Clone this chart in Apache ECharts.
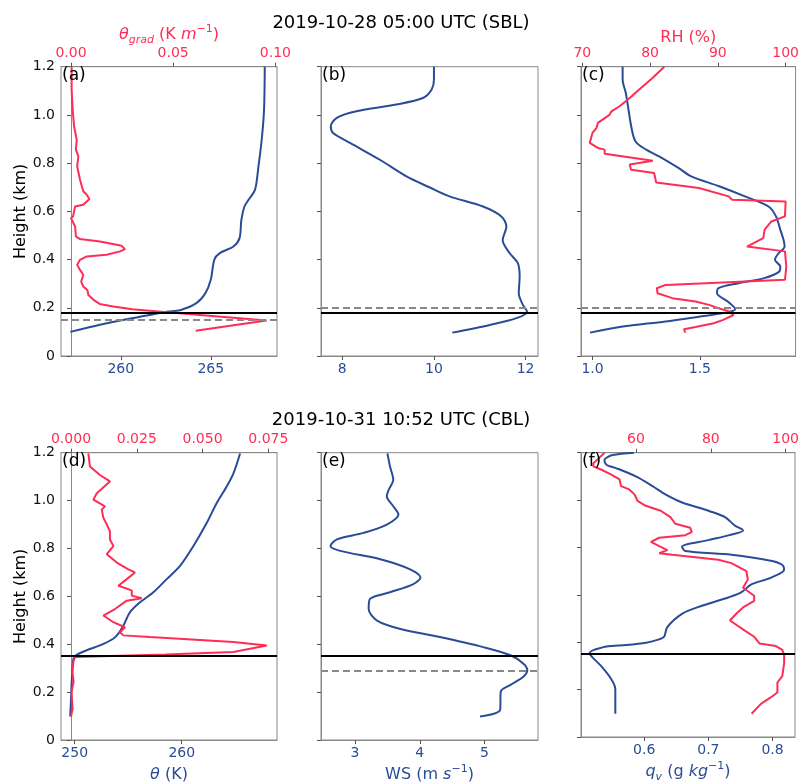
<!DOCTYPE html>
<html>
<head>
<meta charset="utf-8">
<script src="https://cdn.jsdelivr.net/npm/echarts@6/dist/echarts.min.js"></script>
<style>
  html, body { margin: 0; padding: 0; background: #fff; }
  #main { width: 802px; height: 784px; }
</style>
</head>
<body>
<div id="main"></div>
<script>
// ---- data: heights (km) and values read from the profiles ----
// (a) potential temperature (K) and its gradient (K/m), SBL
var aThetaH = [0.10, 0.13, 0.163, 0.184, 0.19, 0.219, 0.26, 0.316, 0.40, 0.427, 0.454, 0.489, 0.565, 0.62, 0.648, 0.69, 0.787, 0.897, 1.022, 1.20];
var aThetaV = [257.2, 258.85, 261.07, 262.56, 263.3, 264.2, 264.7, 265.0, 265.2, 265.5, 266.26, 266.6, 266.7, 266.87, 267.1, 267.46, 267.65, 267.83, 267.96, 268.0];
var aGradH = [0.105, 0.147, 0.181, 0.194, 0.205, 0.216, 0.233, 0.253, 0.274, 0.288, 0.309, 0.337, 0.357, 0.378, 0.399, 0.413, 0.42, 0.434, 0.443, 0.457, 0.475, 0.485, 0.496, 0.537, 0.572, 0.579, 0.62, 0.627, 0.651, 0.669, 0.683, 0.731, 0.787, 0.828, 0.856, 0.897, 0.953, 1.022, 1.105, 1.2];
var aGradV = [0.061, 0.0957, 0.047, 0.030, 0.0207, 0.014, 0.011, 0.0085, 0.008, 0.006, 0.005, 0.006, 0.0044, 0.003, 0.0044, 0.0077, 0.0174, 0.024, 0.0264, 0.0248, 0.0142, 0.0044, 0.0024, 0.002, 0.0, 0.001, 0.002, 0.006, 0.009, 0.0077, 0.006, 0.0044, 0.003, 0.0036, 0.0024, 0.0028, 0.0015, 0.0008, 0.0003, 0.0003];

// (b) wind speed (m/s), SBL
var bWsH = [0.097, 0.129, 0.157, 0.184, 0.212, 0.26, 0.33, 0.385, 0.427, 0.48, 0.537, 0.579, 0.62, 0.662, 0.70, 0.745, 0.814, 0.884, 0.925, 0.953, 0.988, 1.015, 1.043, 1.07, 1.105, 1.147, 1.2];
var bWsV = [10.40, 11.22, 11.80, 12.03, 11.94, 11.85, 11.87, 11.83, 11.65, 11.5, 11.58, 11.47, 11.07, 10.34, 9.9, 9.4, 8.82, 8.17, 7.8, 7.75, 7.88, 8.31, 9.18, 9.76, 9.95, 10.0, 10.0];

// (c) specific humidity (g/kg) and RH (%), SBL
var cQvH = [0.097, 0.122, 0.143, 0.163, 0.18, 0.194, 0.226, 0.26, 0.281, 0.302, 0.323, 0.35, 0.371, 0.399, 0.424, 0.454, 0.482, 0.524, 0.579, 0.62, 0.662, 0.704, 0.745, 0.78, 0.828, 0.856, 0.89, 0.953, 1.036, 1.09, 1.147, 1.2];
var cQvV = [0.988, 1.14, 1.34, 1.495, 1.62, 1.665, 1.63, 1.58, 1.585, 1.68, 1.80, 1.87, 1.875, 1.85, 1.865, 1.895, 1.89, 1.875, 1.855, 1.82, 1.71, 1.59, 1.46, 1.40, 1.31, 1.25, 1.20, 1.18, 1.165, 1.155, 1.14, 1.14];
var cRhH = [0.097, 0.111, 0.12, 0.136, 0.15, 0.17, 0.184, 0.198, 0.212, 0.226, 0.24, 0.26, 0.281, 0.295, 0.302, 0.316, 0.371, 0.434, 0.454, 0.489, 0.524, 0.558, 0.579, 0.641, 0.648, 0.662, 0.697, 0.72, 0.759, 0.773, 0.794, 0.81, 0.839, 0.856, 0.863, 0.884, 0.925, 0.946, 0.967, 1.0, 1.015, 1.036, 1.07, 1.105, 1.154, 1.2];
var cRhV = [85.2, 85.0, 86.7, 89.4, 90.8, 92.3, 91.8, 90.1, 88.7, 86.7, 83.3, 81.1, 81.0, 82.3, 88.2, 99.9, 100.1, 99.9, 94.3, 96.7, 96.9, 97.9, 99.9, 100.0, 92.1, 91.6, 87.2, 80.9, 80.6, 77.2, 77.0, 80.4, 73.3, 73.3, 72.3, 71.1, 71.5, 72.1, 72.3, 74.0, 74.3, 75.5, 77.0, 78.4, 80.4, 82.1];

// (d) potential temperature (K) and its gradient (K/m), CBL
var dThetaH = [0.098, 0.174, 0.243, 0.34, 0.354, 0.375, 0.395, 0.423, 0.444, 0.478, 0.534, 0.575, 0.617, 0.672, 0.727, 0.81, 0.907, 0.99, 1.059, 1.114, 1.197];
var dThetaV = [249.58, 249.66, 249.72, 249.88, 250.12, 251.12, 252.37, 253.6, 254.08, 254.55, 255.17, 256.1, 257.35, 258.6, 259.84, 261.09, 262.34, 263.27, 264.2, 264.83, 265.45];
var dGradH = [0.098, 0.13, 0.2, 0.243, 0.285, 0.326, 0.347, 0.357, 0.368, 0.395, 0.409, 0.43, 0.437, 0.45, 0.471, 0.492, 0.52, 0.547, 0.582, 0.592, 0.603, 0.625, 0.644, 0.672, 0.70, 0.713, 0.741, 0.776, 0.81, 0.838, 0.872, 0.907, 0.928, 0.962, 0.976, 1.004, 1.031, 1.08, 1.107, 1.142, 1.197];
var dGradV = [0.0, 0.0006, 0.0002, 0.001, 0.0005, 0.0009, 0.0015, 0.036, 0.0617, 0.0744, 0.0617, 0.030, 0.0199, 0.0186, 0.0205, 0.0161, 0.0123, 0.0167, 0.0212, 0.0269, 0.0231, 0.0231, 0.018, 0.0212, 0.0243, 0.0218, 0.0174, 0.0136, 0.0161, 0.0148, 0.0148, 0.0133, 0.0123, 0.0117, 0.0129, 0.0085, 0.0098, 0.0148, 0.011, 0.0072, 0.0066];

// (e) wind speed (m/s), CBL
var eWsH = [0.098, 0.126, 0.202, 0.23, 0.264, 0.292, 0.319, 0.354, 0.388, 0.43, 0.464, 0.499, 0.547, 0.589, 0.617, 0.651, 0.679, 0.713, 0.755, 0.79, 0.81, 0.838, 0.865, 0.9, 0.942, 0.976, 1.018, 1.045, 1.087, 1.142, 1.197];
var eWsV = [4.93, 5.24, 5.25, 5.40, 5.60, 5.66, 5.60, 5.40, 4.98, 4.31, 3.70, 3.34, 3.21, 3.23, 3.54, 3.90, 4.01, 3.85, 3.39, 2.77, 2.62, 2.72, 3.13, 3.49, 3.67, 3.59, 3.49, 3.52, 3.59, 3.54, 3.50];

// (f) specific humidity (g/kg) and RH (%), CBL
var fQvH = [0.098, 0.202, 0.243, 0.299, 0.34, 0.354, 0.382, 0.388, 0.398, 0.412, 0.423, 0.464, 0.52, 0.554, 0.589, 0.61, 0.644, 0.672, 0.706, 0.727, 0.744, 0.769, 0.785, 0.803, 0.831, 0.852, 0.872, 0.893, 0.928, 0.955, 0.99, 1.024, 1.059, 1.1, 1.135, 1.149, 1.169, 1.19, 1.2];
var fQvV = [0.555, 0.555, 0.549, 0.533, 0.518, 0.515, 0.541, 0.572, 0.603, 0.623, 0.631, 0.636, 0.659, 0.69, 0.731, 0.751, 0.767, 0.797, 0.818, 0.815, 0.797, 0.736, 0.664, 0.659, 0.70, 0.733, 0.754, 0.741, 0.726, 0.70, 0.659, 0.633, 0.613, 0.587, 0.556, 0.541, 0.538, 0.551, 0.584];
var fRhH = [0.098, 0.14, 0.167, 0.188, 0.23, 0.257, 0.312, 0.347, 0.368, 0.384, 0.395, 0.423, 0.45, 0.478, 0.492, 0.52, 0.547, 0.575, 0.596, 0.63, 0.665, 0.70, 0.734, 0.748, 0.769, 0.776, 0.789, 0.806, 0.824, 0.841, 0.852, 0.865, 0.883, 0.9, 0.928, 0.955, 0.976, 0.997, 1.024, 1.045, 1.059, 1.087, 1.107, 1.128, 1.142, 1.155, 1.2];
var fRhV = [90.9, 93.4, 96.0, 97.8, 97.8, 99.1, 99.6, 99.6, 99.1, 97.4, 93.0, 91.6, 89.0, 86.4, 85.1, 86.8, 88.6, 91.6, 91.6, 88.6, 89.9, 89.5, 85.5, 82.0, 69.7, 66.2, 68.4, 66.2, 64.0, 66.2, 73.2, 74.9, 74.5, 70.5, 69.2, 66.6, 62.6, 60.4, 59.6, 58.2, 56.0, 55.6, 53.4, 50.8, 48.6, 48.6, 51.6];

// boundary-layer heights (km)
var blSolid = [0.18, 0.18, 0.18, 0.35, 0.35, 0.35];
var blDashed = [0.15, 0.20, 0.20, null, 0.29, null];

var rowTitles = ['2019-10-28 05:00 UTC (SBL)', '2019-10-31 10:52 UTC (CBL)'];
var panelLabels = ['(a)', '(b)', '(c)', '(d)', '(e)', '(f)'];

var BLUE = '#2a4c96';
var RED = '#ff2d55';
var FRAME = '#888';
var FONT = 'DejaVu Sans';

function pairs(v, h) {
  return v.map(function (x, i) { return [x, h[i]]; });
}

var lefts = [61, 321, 581];
var widths = [216, 217, 217];
var tops = [66.7, 452.7];
var H = 289.3;

function richStyles(color) {
  var base = { color: color, fontFamily: FONT };
  return {
    n: Object.assign({ fontSize: 16, lineHeight: 22 }, base),
    i: Object.assign({ fontSize: 16, lineHeight: 22, fontStyle: 'italic' }, base),
    s: Object.assign({ fontSize: 11, lineHeight: 11, fontStyle: 'italic', verticalAlign: 'bottom' }, base),
    p: Object.assign({ fontSize: 11, lineHeight: 12, verticalAlign: 'top' }, base),
    ip: Object.assign({ fontSize: 16, lineHeight: 22, fontStyle: 'italic' }, base)
  };
}

// per-panel axis definitions: [bottom, top]
var axesDef = [
  [{ min: 256.68, max: 268.68, ticks: [260, 265], dec: 0, name: '' },
   { min: -0.0049, max: 0.1008, ticks: [0, 0.05, 0.1], dec: 2, name: '{i|θ}{s|grad}{n| (K }{i|m}{p|−1}{n|)}' }],
  [{ min: 7.536, max: 12.27, ticks: [8, 10, 12], dec: 0, name: '' }, null],
  [{ min: 0.946, max: 1.946, ticks: [1.0, 1.5], dec: 1, name: '' },
   { min: 69.81, max: 101.46, ticks: [70, 80, 90, 100], dec: 0, name: '{n|RH (%)}' }],
  [{ min: 248.72, max: 268.9, ticks: [250, 260], dec: 0, name: '{i|θ}{n| (K)}' },
   { min: -0.0038, max: 0.0783, ticks: [0, 0.025, 0.05, 0.075], dec: 3, name: '' }],
  [{ min: 2.474, max: 5.825, ticks: [3, 4, 5], dec: 0, name: '{n|WS (m }{ip|s}{p|−1}{n|)}' }, null],
  [{ min: 0.5015, max: 0.835, ticks: [0.6, 0.7, 0.8], dec: 1, name: '{i|q}{s|v}{n| (g }{i|kg}{p|−1}{n|)}' },
   { min: 45.3, max: 102.5, ticks: [60, 80, 100], dec: 0, name: '' }]
];

var grids = [], xAxes = [], yAxes = [], series = [], titles = [];

rowTitles.forEach(function (t, r) {
  titles.push({
    text: t, left: 'center', top: r === 0 ? 14 : 411, padding: 0,
    textStyle: { fontSize: 18, fontWeight: 'normal', color: '#000', fontFamily: FONT }
  });
});

for (var p = 0; p < 6; p++) {
  var row = Math.floor(p / 3), col = p % 3;
  grids.push({
    left: lefts[col], top: tops[row], width: widths[col], height: H,
    show: true, borderColor: FRAME, borderWidth: 1, backgroundColor: 'transparent'
  });
  titles.push({
    text: panelLabels[p], left: lefts[col] + 1, top: tops[row] + 0, padding: 0,
    textStyle: { fontSize: 17, fontWeight: 'normal', color: '#000', fontFamily: FONT }
  });
  yAxes.push({
    type: 'value', gridIndex: p, min: 0, max: 1.2, interval: 0.2,
    name: col === 0 ? 'Height (km)' : '', nameLocation: 'middle', nameGap: 31,
    nameTextStyle: { fontSize: 16, color: '#000', fontFamily: FONT },
    axisLine: { show: true, lineStyle: { color: FRAME } },
    axisTick: { show: true, length: 4, lineStyle: { color: '#555' } },
    axisLabel: {
      show: col === 0, fontSize: 14, color: '#111', fontFamily: FONT, margin: 6,
      formatter: function (v) { return v === 0 ? '0' : v.toFixed(1); }
    },
    splitLine: { show: false }
  });
  var defs = axesDef[p];
  var bottomIdx = xAxes.length;
  [defs[0], defs[1]].forEach(function (d, k) {
    if (!d) return;
    var color = k === 0 ? BLUE : RED;
    xAxes.push({
      type: 'value', gridIndex: p, position: k === 0 ? 'bottom' : 'top',
      min: d.min, max: d.max,
      name: d.name, nameLocation: 'middle', nameGap: k === 0 ? 24 : 16,
      nameTextStyle: { fontSize: 16, color: color, fontFamily: FONT, rich: richStyles(color) },
      axisLine: { show: true, onZero: false, lineStyle: { color: FRAME } },
      axisTick: { show: true, length: 4, customValues: d.ticks, lineStyle: { color: '#555' } },
      axisLabel: {
        fontSize: 14, color: color, fontFamily: FONT, margin: 6, customValues: d.ticks,
        formatter: (function (dec) { return function (v) { return v.toFixed(dec); }; })(d.dec)
      },
      splitLine: { show: false }
    });
  });
  var topIdx = defs[1] ? bottomIdx + 1 : null;

  var marks = [];
  if (blSolid[p] != null) {
    marks.push({ yAxis: blSolid[p], lineStyle: { color: '#000', width: 2, type: 'solid' } });
  }
  if (blDashed[p] != null) {
    marks.push({ yAxis: blDashed[p], lineStyle: { color: '#888', width: 2, type: [7, 4] } });
  }

  var blueData, redData = null;
  if (p === 0) { blueData = pairs(aThetaV, aThetaH); redData = pairs(aGradV, aGradH); }
  if (p === 1) { blueData = pairs(bWsV, bWsH); }
  if (p === 2) { blueData = pairs(cQvV, cQvH); redData = pairs(cRhV, cRhH); }
  if (p === 3) { blueData = pairs(dThetaV, dThetaH); redData = pairs(dGradV, dGradH); }
  if (p === 4) { blueData = pairs(eWsV, eWsH); }
  if (p === 5) { blueData = pairs(fQvV, fQvH); redData = pairs(fRhV, fRhH); }

  series.push({
    type: 'line', xAxisIndex: bottomIdx, yAxisIndex: p, data: blueData,
    showSymbol: false, smooth: 0.3, z: 3,
    lineStyle: { color: BLUE, width: 2 }, silent: true
  });
  if (redData) {
    series.push({
      type: 'line', xAxisIndex: topIdx, yAxisIndex: p, data: redData,
      showSymbol: false, smooth: false, z: 4,
      lineStyle: { color: RED, width: 2 }, silent: true
    });
  }
  // boundary layer height lines
  series.push({
    type: 'line', xAxisIndex: bottomIdx, yAxisIndex: p, data: [], z: 5, silent: true,
    markLine: { symbol: ['none', 'none'], silent: true, label: { show: false }, animation: false, data: marks }
  });
}

var myChart = echarts.init(document.getElementById('main'));
myChart.setOption({
  animation: false,
  backgroundColor: '#fff',
  title: titles,
  grid: grids,
  xAxis: xAxes,
  yAxis: yAxes,
  series: series
});
</script>
</body>
</html>
